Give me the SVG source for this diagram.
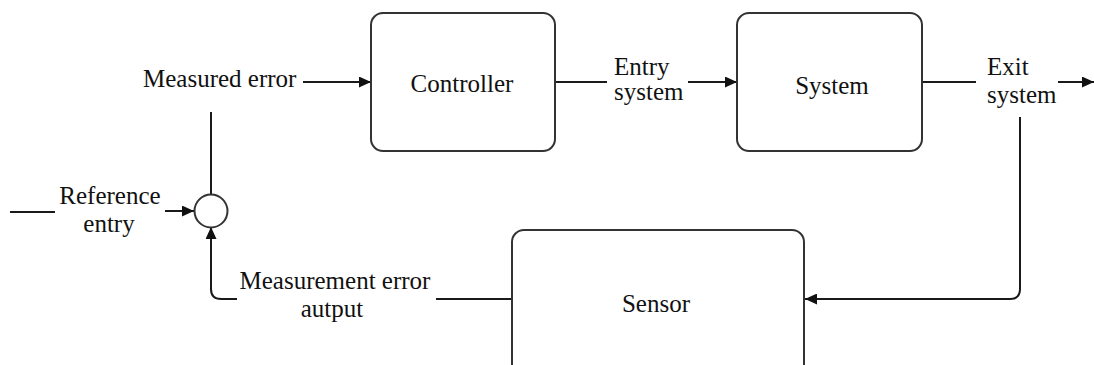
<svg xmlns="http://www.w3.org/2000/svg" width="1094" height="365" viewBox="0 0 1094 365">
  <style>
    .box { fill: #ffffff; stroke: #333333; stroke-width: 2; }
    .wire { fill: none; stroke: #1a1a1a; stroke-width: 2; }
    .lbl { font-family: "Liberation Serif", "Times New Roman", serif; font-size: 25px; fill: #111111; }
    .mid { text-anchor: middle; }
  </style>
  <defs>
    <marker id="arrow" markerUnits="userSpaceOnUse" markerWidth="12" markerHeight="11" refX="12" refY="5.5" orient="auto">
      <path d="M0,0 L12,5.5 L0,11 z" fill="#111111"/>
    </marker>
  </defs>

  <rect width="1094" height="365" fill="#ffffff"/>

  <!-- connectors -->
  <g id="connectors">
    <path class="wire" d="M303,82 H371" marker-end="url(#arrow)"/>
    <path class="wire" d="M211,194 V112"/>
    <path class="wire" d="M10,212 H55"/>
    <path class="wire" d="M165,211 H194" marker-end="url(#arrow)"/>
    <path class="wire" d="M555,82 H607"/>
    <path class="wire" d="M688,82 H737" marker-end="url(#arrow)"/>
    <path class="wire" d="M922,82 H976"/>
    <path class="wire" d="M1058,82 H1094" marker-end="url(#arrow)"/>
    <path class="wire" d="M1020,117 V289 Q1020,299 1010,299 H805" marker-end="url(#arrow)"/>
    <path class="wire" d="M512,299 H436"/>
    <path class="wire" d="M237,299 H221 Q211,299 211,289 V227" marker-end="url(#arrow)"/>
  </g>

  <!-- summing junction -->
  <g id="sum">
    <circle class="box" cx="211" cy="211" r="16.5"/>
  </g>

  <g id="controller">
    <rect class="box" x="371" y="13" width="184" height="138" rx="12"/>
    <text class="lbl mid" x="462" y="92">Controller</text>
  </g>

  <g id="system">
    <rect class="box" x="737" y="13" width="185" height="138" rx="12"/>
    <text class="lbl mid" x="832" y="94">System</text>
  </g>

  <g id="sensor">
    <rect class="box" x="512" y="230" width="292" height="160" rx="12"/>
    <text class="lbl mid" x="656" y="312">Sensor</text>
  </g>

  <!-- signal labels -->
  <g id="labels">
    <text class="lbl" x="143" y="87">Measured error</text>
    <text class="lbl mid" x="110" y="204">Reference</text>
    <text class="lbl mid" x="109" y="232">entry</text>
    <text class="lbl" x="614" y="75">Entry</text>
    <text class="lbl" x="614" y="100">system</text>
    <text class="lbl" x="987" y="75">Exit</text>
    <text class="lbl" x="987" y="103">system</text>
    <text class="lbl mid" x="335" y="289">Measurement error</text>
    <text class="lbl mid" x="332" y="317">autput</text>
  </g>
</svg>
